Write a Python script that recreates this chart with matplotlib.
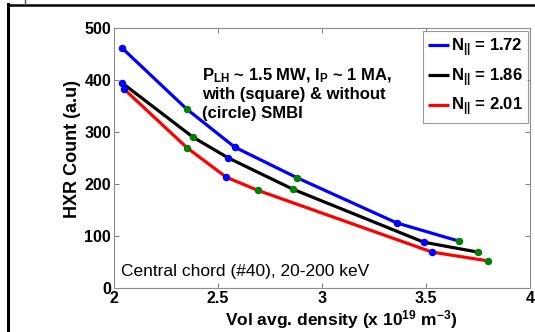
import matplotlib
matplotlib.use("Agg")
import matplotlib.pyplot as plt
from matplotlib.lines import Line2D

plt.rcParams["font.family"] = ["Liberation Sans", "DejaVu Sans"]
plt.rcParams["mathtext.default"] = "regular"

# HXR counts vs. volume-averaged density for three N|| values
# smbi flag: True -> with SMBI (green marker), False -> without (blue marker)
density_172 = [2.04, 2.35, 2.58, 2.88, 3.36, 3.66]
hxr_172 = [461, 344, 271, 212, 125, 90]
density_186 = [2.04, 2.38, 2.55, 2.86, 3.49, 3.75]
hxr_186 = [394, 290, 250, 190, 88, 69]
density_201 = [2.05, 2.35, 2.54, 2.69, 3.53, 3.80]
hxr_201 = [382, 270, 213, 188, 69, 52]
smbi = [False, True, False, True, False, True]

series_labels = ["N$_{||}$ = 1.72", "N$_{||}$ = 1.86", "N$_{||}$ = 2.01"]
series_colors = ["#0000ff", "#000000", "#ff0000"]
x_ticks = [2, 2.5, 3, 3.5, 4]
y_ticks = [0, 100, 200, 300, 400, 500]

W, H = 535, 332
fig = plt.figure(figsize=(W / 100, H / 100), dpi=100)
ax = fig.add_axes([114 / W, 1 - 288 / H, 416 / W, 260 / H])

series = [(density_172, hxr_172), (density_186, hxr_186), (density_201, hxr_201)]
for (xs, ys), col, lab in zip(series, series_colors, series_labels):
    ax.plot(xs, ys, color=col, lw=2.3, label=lab, zorder=2, solid_capstyle="butt")
    for x, y, s in zip(xs, ys, smbi):
        ax.plot(x, y, "o", color="#008000" if s else "#0000ff",
                ms=5.4, mec="none", zorder=3)

ax.set_xlim(2, 4)
ax.set_ylim(0, 500)
ax.set_xticks(x_ticks)
ax.set_xticklabels(["2", "2.5", "3", "3.5", "4"])
ax.set_yticks(y_ticks)
ax.tick_params(direction="in", length=3.5, width=0.7, color="#7f7f7f",
               top=True, right=True, labelsize=11.5, pad=2)
for lbl in ax.get_xticklabels() + ax.get_yticklabels():
    lbl.set_fontweight("bold")
for sp in ax.spines.values():
    sp.set_color("#8c8c8c")
    sp.set_linewidth(0.8)

ax.set_ylabel("HXR Count (a.u)", fontsize=13, fontweight="bold")
ax.yaxis.set_label_coords(-0.08, 0.535)
ax.set_xlabel("Vol avg. density (x 10$^{19}$ m$^{-3}$)", fontsize=12.5,
              fontweight="bold")
ax.xaxis.set_label_coords(0.546, -0.078)

leg = ax.legend(loc="upper right", bbox_to_anchor=(0.995, 0.987),
                prop={"weight": "bold", "size": 12},
                frameon=True, fancybox=False, edgecolor="#7f7f7f",
                handlelength=1.3, handletextpad=0.1, labelspacing=0.42,
                borderpad=0.3, borderaxespad=0)
leg.get_frame().set_linewidth(0.8)
for h in leg.get_lines():
    h.set_linewidth(2.3)

tx = (202 - 114) / 416
def ypix(py):
    return (288 - py) / 260

ax.text(tx, ypix(80), "P$_{LH}$ ~ 1.5 MW, I$_{P}$ ~ 1 MA,", transform=ax.transAxes,
        fontsize=12, fontweight="bold", va="baseline", ha="left")
ax.text(tx, ypix(98.5), "with (square) & without", transform=ax.transAxes,
        fontsize=12, fontweight="bold", va="baseline", ha="left")
ax.text(tx, ypix(118), "(circle) SMBI", transform=ax.transAxes,
        fontsize=12, fontweight="bold", va="baseline", ha="left")
ax.text((121 - 114) / 416, ypix(276), "Central chord (#40), 20-200 keV",
        transform=ax.transAxes, fontsize=12.5, va="baseline", ha="left")

# page frame lines around the figure
fig.add_artist(Line2D([8 / W, 1], [1 - 4.5 / H, 1 - 4.5 / H], color="black", lw=1.8))
fig.add_artist(Line2D([8 / W, 8 / W], [0, 1 - 4 / H], color="black", lw=2.2))
fig.add_artist(Line2D([25 / W, 25 / W], [1 - 4 / H, 1], color="#555555", lw=1.0))

fig.savefig("out.png", dpi=100)
